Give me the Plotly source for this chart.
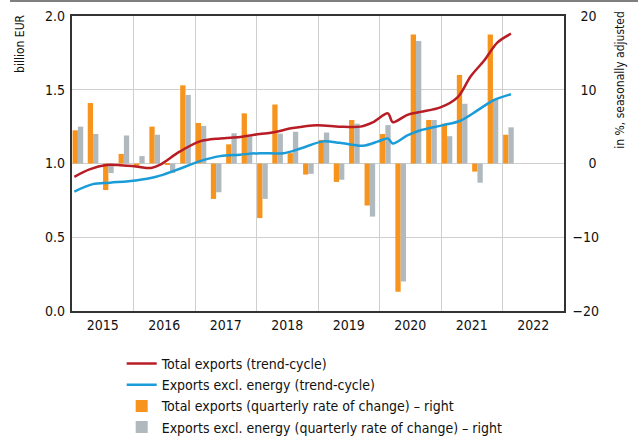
import pandas as pd
import plotly.graph_objects as go

# ---- data ----
quarters = ["2015Q1", "2015Q2", "2015Q3", "2015Q4",
            "2016Q1", "2016Q2", "2016Q3", "2016Q4",
            "2017Q1", "2017Q2", "2017Q3", "2017Q4",
            "2018Q1", "2018Q2", "2018Q3", "2018Q4",
            "2019Q1", "2019Q2", "2019Q3", "2019Q4",
            "2020Q1", "2020Q2", "2020Q3", "2020Q4",
            "2021Q1", "2021Q2", "2021Q3", "2021Q4",
            "2022Q1"]
total_qoq = [4.5, 8.2, -3.6, 1.3,
             -0.3, 5.0, -0.1, 10.6,
             5.5, -4.8, 2.6, 6.8,
             -7.4, 8.0, 1.4, -1.5,
             3.2, -2.5, 5.9, -5.7,
             4.0, -17.4, 17.5, 5.9,
             5.4, 12.0, -1.1, 17.5,
             3.9]
excl_qoq = [5.0, 4.0, -1.3, 3.8,
            1.0, 3.9, -1.3, 9.3,
            5.1, -3.9, 4.1, 3.6,
            -4.8, 4.05, 4.3, -1.4,
            4.2, -2.2, 5.4, -7.2,
            5.2, -16.0, 16.6, 5.9,
            3.7, 8.1, -2.6, 8.7,
            4.9]

total_trend_dates = ["2015-01-15", "2015-04-15", "2015-07-25", "2015-10-01",
                     "2016-01-15", "2016-04-15", "2016-06-05", "2016-10-01",
                     "2017-01-30", "2017-05-30", "2017-09-25", "2018-01-20",
                     "2018-04-05", "2018-08-05", "2018-12-25", "2019-05-10",
                     "2019-09-10", "2019-11-25", "2020-02-20", "2020-03-20",
                     "2020-06-15", "2020-09-01", "2020-12-28", "2021-04-10",
                     "2021-06-25", "2021-09-15", "2021-12-01", "2022-02-20"]
total_trend = [0.91, 0.96, 0.99, 0.99,
               0.98, 0.97, 0.99, 1.08,
               1.15, 1.17, 1.18, 1.20,
               1.21, 1.24, 1.26, 1.25,
               1.25, 1.28, 1.34, 1.28,
               1.33, 1.35, 1.38, 1.45,
               1.59, 1.70, 1.82, 1.88]

excl_trend_dates = ["2015-01-15", "2015-05-05", "2015-08-15", "2016-01-15",
                    "2016-05-15", "2016-09-10", "2017-01-30", "2017-05-30",
                    "2017-09-25", "2018-01-20", "2018-06-10", "2018-09-15",
                    "2019-02-01", "2019-05-10", "2019-09-25", "2019-12-25",
                    "2020-02-20", "2020-03-20", "2020-06-15", "2020-09-01",
                    "2021-01-15", "2021-04-25", "2021-08-05", "2021-11-10",
                    "2022-02-20"]
excl_trend = [0.81, 0.86, 0.87, 0.885,
              0.91, 0.955, 1.016, 1.05,
              1.06, 1.07, 1.07, 1.10,
              1.15, 1.14, 1.12, 1.15,
              1.17, 1.135, 1.19, 1.225,
              1.26, 1.29, 1.36, 1.43,
              1.47]

left_ticks = [0.0, 0.5, 1.0, 1.5, 2.0]
right_ticks = [-20, -10, 0, 10, 20]
right_ticktext = ["\u221220", "\u221210", "\u2007\u20070", "\u200710", "\u200720"]

names = ["Total exports (trend-cycle)",
         "Exports excl. energy (trend-cycle)",
         "Total exports (quarterly rate of change) \u2013 right",
         "Exports excl. energy (quarterly rate of change) \u2013 right"]

# ---- styling ----
FONT = "Liberation Sans Narrow, Arial Narrow, DejaVu Sans Condensed, sans-serif"
RED = "#B81D25"
BLUE = "#1A9CD8"
ORANGE = "#F7941D"
GREY = "#AFB9BE"
GRID = "#CFCFCF"

bar_x = [pd.Period(q, freq="Q").start_time + pd.Timedelta(days=35) for q in quarters]

fig = go.Figure()
fig.add_trace(go.Scatter(x=total_trend_dates, y=total_trend, name=names[0],
                         mode="lines", line=dict(color=RED, width=2.5, shape="spline", smoothing=0.9),
                         yaxis="y2"))
fig.add_trace(go.Scatter(x=excl_trend_dates, y=excl_trend, name=names[1],
                         mode="lines", line=dict(color=BLUE, width=2.5, shape="spline", smoothing=0.9),
                         yaxis="y2"))
fig.add_trace(go.Bar(x=bar_x, y=total_qoq, name=names[2], marker=dict(color=ORANGE, line_width=0),
                     yaxis="y"))
fig.add_trace(go.Bar(x=bar_x, y=excl_qoq, name=names[3], marker=dict(color=GREY, line_width=0),
                     yaxis="y"))

fig.update_layout(
    width=638, height=443,
    margin=dict(l=72, r=74, t=16, b=132, autoexpand=False),
    paper_bgcolor="white", plot_bgcolor="white",
    font=dict(family=FONT, size=14, color="#111111"),
    barmode="group", bargap=0.3, bargroupgap=0,
    showlegend=True,
    legend=dict(orientation="v", x=0.101, y=-0.125, xanchor="left", yanchor="top",
                font=dict(size=14), itemwidth=30, tracegroupgap=0,
                bgcolor="rgba(0,0,0,0)"),
    xaxis=dict(type="date", range=["2015-01-01", "2023-01-01"], dtick="M12",
               tick0="2015-01-01", ticklabelmode="period", tickformat="%Y",
               showgrid=True, gridcolor=GRID, gridwidth=1,
               showline=True, linecolor="#333333", linewidth=1.5, mirror=True,
               ticks="", tickfont=dict(size=14)),
    yaxis=dict(side="right", range=[-20, 20], tickvals=right_ticks, ticktext=right_ticktext,
               showgrid=True, gridcolor=GRID, gridwidth=1, zeroline=False,
               showline=True, linecolor="#333333", linewidth=1.5, mirror=True,
               ticks="", tickfont=dict(size=14), ticklabelstandoff=4),
    yaxis2=dict(side="left", overlaying="y", range=[0, 2], tickvals=left_ticks,
                tickformat=".1f", showgrid=False, zeroline=False, showline=False,
                ticks="", tickfont=dict(size=14), ticklabelstandoff=6),
    annotations=[
        dict(text="billion EUR", xref="paper", yref="paper", x=-0.106, y=1.01,
             xanchor="center", yanchor="top", textangle=-90, showarrow=False,
             font=dict(size=12)),
        dict(text="in %, seasonally adjusted", xref="paper", yref="paper", x=1.112, y=1.02,
             xanchor="center", yanchor="top", textangle=-90, showarrow=False,
             font=dict(size=12)),
    ],
    shapes=[dict(type="line", xref="paper", yref="paper", x0=-0.126, x1=1.16, y0=1.051, y1=1.051,
                 line=dict(color="#555555", width=1.5))],
)

fig.write_html("out.html", config={"displayModeBar": False},
               post_script="document.body.style.margin='0px';")
